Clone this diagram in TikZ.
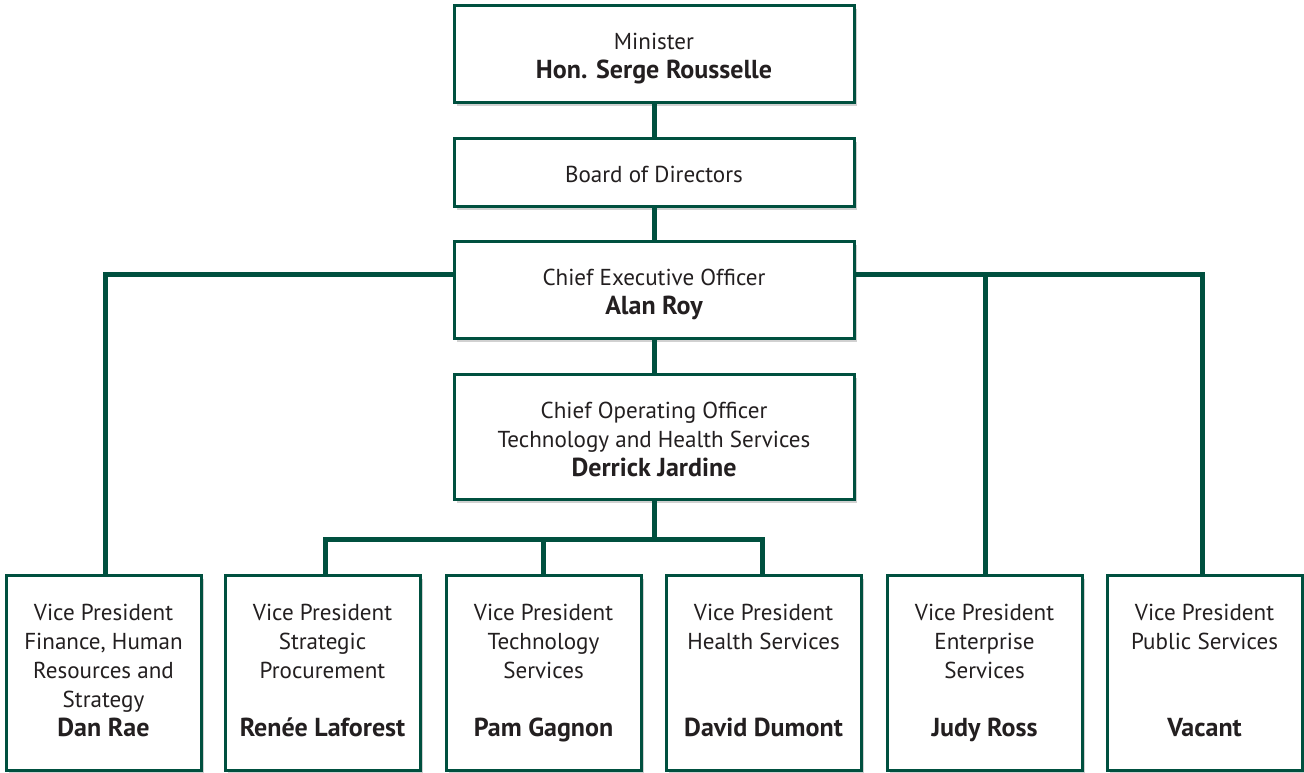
\documentclass[tikz,border=0pt]{standalone}
\usepackage{fontspec}
\setmainfont{PT Sans}
\usetikzlibrary{shadows}
\definecolor{dgreen}{HTML}{00503F}
\definecolor{txt}{HTML}{231F20}
\begin{document}
\begin{tikzpicture}[x=0.75pt,y=-0.75pt,
  box/.style={draw=dgreen,line width=2.25pt,fill=white,align=center,text=txt,
    font=\fontsize{17.3}{21.75}\selectfont,inner sep=0pt,
    drop shadow={shadow xshift=2.5pt,shadow yshift=-2.5pt,fill=black,opacity=0.18}},
  topbox/.style={box,minimum width=400*0.75pt},
  vpbox/.style={box,minimum width=195*0.75pt,minimum height=195*0.75pt},
  conn/.style={draw=dgreen,line width=3.75pt}]
\useasboundingbox (0,0) rectangle (1304,773);
\newcommand{\nm}[1]{{\fontsize{19.5}{21.75}\selectfont\bfseries\strut #1}}
\newcommand{\tstr}{\rule{0pt}{21.2pt}}
\coordinate (hl) at (105,275);
\coordinate (hr1) at (985,275);
\coordinate (hr2) at (1202,275);
\coordinate (ml) at (325,540);
\coordinate (mm) at (543,540);
\coordinate (mr) at (762,540);
\node[topbox,minimum height=97*0.75pt] (min) at (654,54.5) {\tstr Minister\\ \nm{Hon. Serge Rousselle}};
\node[topbox,minimum height=68*0.75pt] (board) at (654,173) {\tstr\strut Board of Directors};
\node[topbox,minimum height=97*0.75pt] (ceo) at (654,290.5) {\tstr Chief Executive Officer\\ \nm{Alan Roy}};
\node[topbox,minimum height=125*0.75pt] (coo) at (654,437.5) {\tstr Chief Operating Officer\\Technology and Health Services\\ \nm{Derrick Jardine}};
\node[vpbox] (vp1) at (103.5,673) {\strut Vice President\\Finance, Human\\Resources and\\Strategy\\ \nm{Dan Rae}};
\node[vpbox] (vp2) at (322.5,673) {\strut Vice President\\Strategic\\Procurement\\ ~\\ \nm{Renée Laforest}};
\node[vpbox] (vp3) at (543.5,673) {\strut Vice President\\Technology\\Services\\ ~\\ \nm{Pam Gagnon}};
\node[vpbox] (vp4) at (763.5,673) {\strut Vice President\\Health Services\\ ~\\ ~\\ \nm{David Dumont}};
\node[vpbox] (vp5) at (984.5,673) {\strut Vice President\\Enterprise\\Services\\ ~\\ \nm{Judy Ross}};
\node[vpbox] (vp6) at (1204.5,673) {\strut Vice President\\Public Services\\ ~\\ ~\\ \nm{Vacant}};
\draw[conn] (min.south) -- (board.north);
\draw[conn] (board.south) -- (ceo.north);
\draw[conn] (ceo.south) -- (coo.north);
\draw[conn] (ceo.west |- hl) -- (hl) -- (vp1.north -| hl);
\draw[conn] (ceo.east |- hr2) -- (hr2) -- (vp6.north -| hr2);
\draw[conn] (hr1) -- (vp5.north -| hr1);
\draw[conn] (coo.south) -- (coo.south |- ml);
\draw[conn] (vp2.north -| ml) -- (ml) -- (mr) -- (vp4.north -| mr);
\draw[conn] (mm) -- (vp3.north -| mm);
\end{tikzpicture}
\end{document}
